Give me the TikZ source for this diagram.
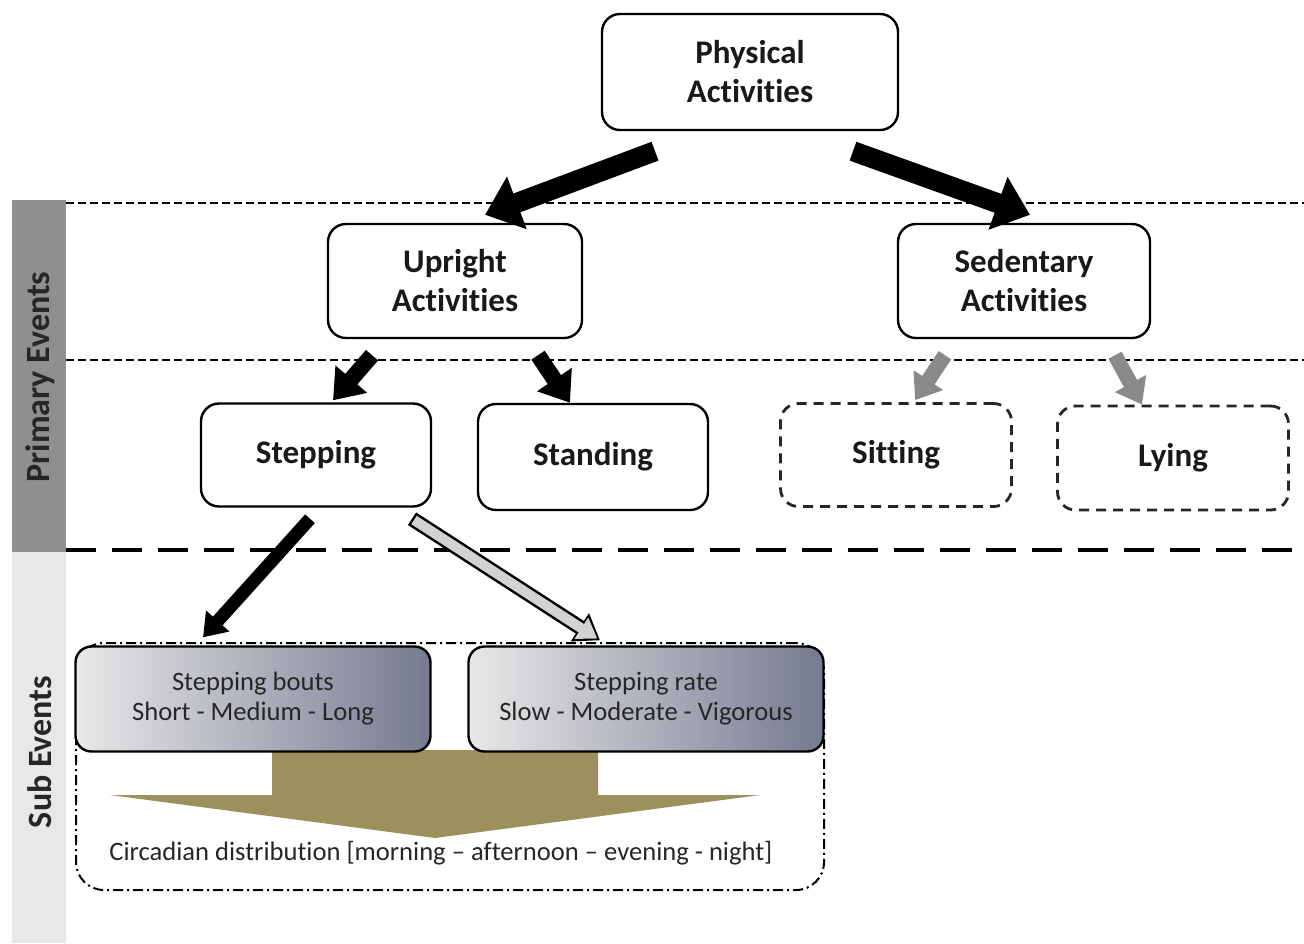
\documentclass[tikz,border=0pt]{standalone}
\usepackage{fontspec}
\setmainfont{Carlito}[Ligatures={TeX,NoCommon}]
\usetikzlibrary{arrows.meta}

\definecolor{sidedark}{RGB}{143,143,143}
\definecolor{sidelight}{RGB}{232,232,232}
\definecolor{slate}{RGB}{118,122,144}
\definecolor{olivearrow}{RGB}{156,144,92}
\definecolor{softgray}{RGB}{138,138,138}

\begin{document}
\begin{tikzpicture}[
    x=0.5pt, y=-0.5pt,
    every node/.style={align=center, font=\fontsize{16.5}{19.5}\selectfont\bfseries, text=black!90},
    actbox/.style={draw=black, line width=1.2pt, rounded corners=9pt, fill=white},
    guessbox/.style={draw=black!85, line width=1.4pt, rounded corners=9pt, dash pattern=on 5pt off 3.5pt},
    subbox/.style={draw=black, line width=1.2pt, rounded corners=8pt, left color=gray!18, right color=slate,
      minimum width=177.5pt, minimum height=52.5pt, font=\fontsize{13.3}{15}\selectfont, text=black!85},
    bigarrow/.style={line width=10pt, -{Triangle[length=17pt,width=27pt]}},
    midarrow/.style={line width=8pt, -{Triangle[length=14pt,width=20pt]}},
    greyarrow/.style={softgray, line width=7.5pt, -{Triangle[length=12pt,width=17pt]}},
    thinarrow/.style={line width=6.5pt, -{Triangle[length=11pt,width=15pt]}},
    levelline/.style={line width=1.3pt, dash pattern=on 4pt off 2pt}
    ]
    \useasboundingbox (0,0) rectangle (1304,943);

    % side bars
    \fill[sidedark] (12,200) rectangle (66,552);
    \fill[sidelight] (12,552) rectangle (66,943);
    \node[rotate=90, font=\fontsize{17}{20}\selectfont\bfseries, text=black!85] (primlbl) at (40,377) {Primary Events};
    \node[rotate=90, font=\fontsize{17}{20}\selectfont\bfseries, text=black!85] (sublbl) at (40,752) {Sub Events};

    % level separators
    \draw[levelline] (66,203) -- (1304,203);
    \draw[levelline] (66,360) -- (1304,360);
    \draw[line width=1.6pt, dash pattern=on 15pt off 8pt] (66,550) -- (1304,550);

    % main tree
    \node[actbox, minimum width=148pt, minimum height=58pt] (phys) at (750,72) {Physical\\Activities};
    \node[actbox, minimum width=127pt, minimum height=57pt] (upright) at (455,281) {Upright\\Activities};
    \node[actbox, minimum width=126pt, minimum height=57pt] (sedent) at (1024,281) {Sedentary\\Activities};
    \node[actbox, minimum width=115pt, minimum height=51.5pt] (stepping) at (316,455) {Stepping};
    \node[actbox, minimum width=115pt, minimum height=53pt] (standing) at (593,457) {Standing};
    \node[guessbox, minimum width=115.5pt, minimum height=51.5pt] (sitting) at (896,455) {Sitting};
    \node[guessbox, minimum width=115.5pt, minimum height=52pt] (lying) at (1173,458) {Lying};

    % sub events
    \node[draw=black, line width=1pt, rounded corners=14pt, dash pattern=on 5pt off 2pt on 1pt off 2pt,
      minimum width=374pt, minimum height=123.5pt] (circframe) at (450,766.5) {};
    \fill[olivearrow] (272,750) -- (598,750) -- (598,795) -- (760,795) -- (435,838) -- (110,795) -- (272,795) -- cycle;
    \node[subbox] (bouts) at (253,699) {Stepping bouts\\Short - Medium - Long};
    \node[subbox] (rate) at (646,699) {Stepping rate\\Slow - Moderate - Vigorous};
    \node[font=\fontsize{13.3}{15}\selectfont, text=black!85] (circ) at (441,853)
      {Circadian distribution [morning -- afternoon -- evening - night]};

    % arrows
    \draw[bigarrow] ([xshift=-47.5pt,yshift=-10pt]phys.south) -- ([xshift=15pt,yshift=4pt]upright.north);
    \draw[bigarrow] ([xshift=51.5pt,yshift=-10pt]phys.south) -- ([xshift=3pt,yshift=4pt]sedent.north);
    \draw[midarrow] ([xshift=-41.5pt,yshift=-8pt]upright.south) -- ([xshift=8.5pt,yshift=1pt]stepping.north);
    \draw[midarrow] ([xshift=41.5pt,yshift=-8pt]upright.south) -- ([xshift=-11.5pt]standing.north);
    \draw[greyarrow] ([xshift=-39.5pt,yshift=-8pt]sedent.south) -- ([xshift=9.5pt,yshift=1pt]sitting.north);
    \draw[greyarrow] ([xshift=45.5pt,yshift=-8pt]sedent.south) -- ([xshift=-15.5pt]lying.north);
    \draw[thinarrow] ([xshift=-3pt,yshift=-5.5pt]stepping.south) -- ([xshift=-25pt,yshift=4pt]bouts.north);
    \draw[line width=7.5pt, -{Triangle[length=12pt,width=16pt]}]
      ([xshift=48pt,yshift=-5.5pt]stepping.south) -- ([xshift=-23pt,yshift=2.5pt]rate.north);
    \draw[gray!35, line width=5pt, shorten <=1.2pt, shorten >=1.6pt, -{Triangle[length=9.5pt,width=12pt]}]
      ([xshift=48pt,yshift=-5.5pt]stepping.south) -- ([xshift=-23pt,yshift=2.5pt]rate.north);
\end{tikzpicture}
\end{document}
